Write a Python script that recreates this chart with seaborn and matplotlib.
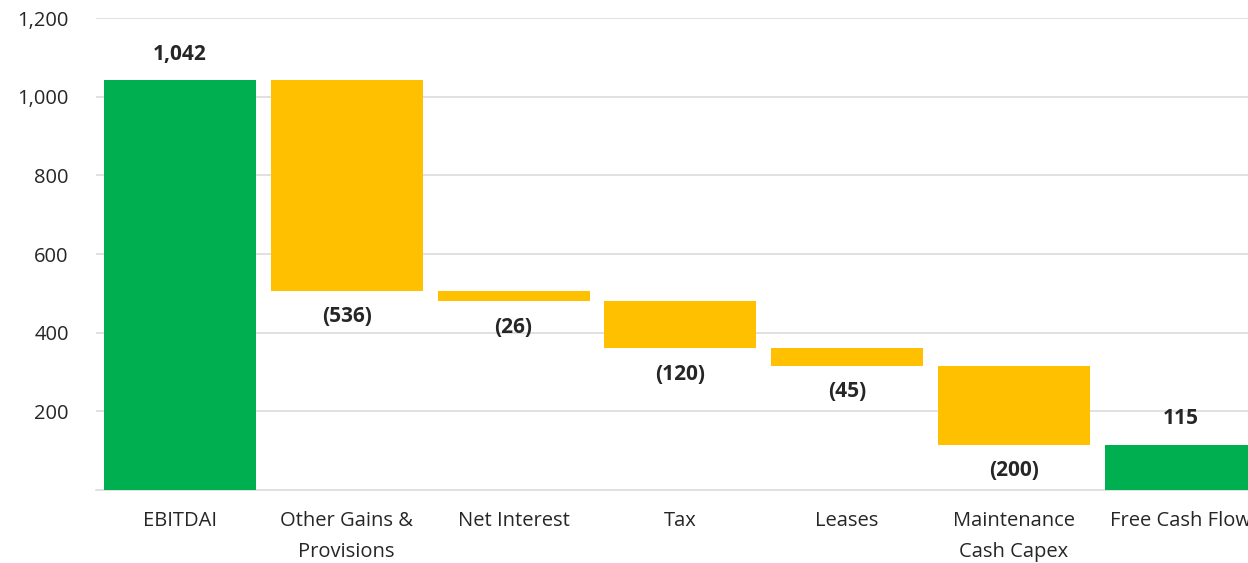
"""Free cash flow bridge - waterfall chart (EBITDAI -> FCF)."""

import matplotlib
import numpy as np
import pandas as pd
import seaborn as sns

matplotlib.use("Agg")
import matplotlib.pyplot as plt  # noqa: E402

sns.set_theme(style="white")
plt.rcParams["font.family"] = ["Open Sans", "DejaVu Sans"]

CATEGORIES = [
    "EBITDAI",
    "Other Gains &\nProvisions",
    "Net Interest",
    "Tax",
    "Leases",
    "Maintenance\nCash Capex",
    "Free Cash Flow",
]
VALUES = [1042, -536, -26, -120, -45, -200, 115]
IS_TOTAL = [True, False, False, False, False, False, True]
Y_TICKS = [200, 400, 600, 800, 1000, 1200]

GREEN, AMBER, GRID, TXT = "#00B050", "#FFC000", "#D9D9D9", "#262626"

# running total -> bar bottoms / heights
bottoms, heights = [], []
run = 0
for v, tot in zip(VALUES, IS_TOTAL):
    if tot:
        bottoms.append(0)
        heights.append(v)
        run = v
    else:
        run += v
        bottoms.append(run)
        heights.append(-v)

df = pd.DataFrame(
    {
        "cat": CATEGORIES,
        "height": heights,
        "bottom": bottoms,
        "total": IS_TOTAL,
    }
)

fig = plt.figure(figsize=(12.48, 5.63), dpi=100)
# axes deliberately runs past the right edge (last bar is clipped in the source)
ax = fig.add_axes([0.0773, 0.1297, 0.9357, 0.838])

for is_tot, color in [(True, GREEN), (False, AMBER)]:
    sub = df[df["total"] == is_tot]
    sns.barplot(
        data=sub,
        x="cat",
        y="height",
        order=CATEGORIES,
        bottom=sub["bottom"].to_numpy(),
        color=color,
        width=0.911,
        saturation=1,
        linewidth=0,
        errorbar=None,
        ax=ax,
        zorder=3,
    )

for i, (v, tot, b, h) in enumerate(zip(VALUES, IS_TOTAL, bottoms, heights)):
    if tot:
        ax.annotate(f"{v:,}", (i, b + h), xytext=(0, 11), textcoords="offset points",
                    ha="center", va="bottom", fontsize=15, fontweight="bold", color=TXT)
    else:
        ax.annotate(f"({-v:,})", (i, b), xytext=(0, -11), textcoords="offset points",
                    ha="center", va="top", fontsize=15, fontweight="bold", color=TXT)

ax.set_ylim(0, 1200)
ax.set_xlim(-0.5, len(CATEGORIES) - 0.5)
ax.set_yticks(Y_TICKS)
ax.set_yticklabels([f"{t:,}" for t in Y_TICKS])
ax.yaxis.grid(True, color=GRID, linewidth=1.1, zorder=0)
ax.set_axisbelow(True)
for s in ["left", "right", "top"]:
    ax.spines[s].set_visible(False)
ax.spines["bottom"].set_color(GRID)
ax.spines["bottom"].set_linewidth(1.1)
ax.tick_params(axis="y", length=0, pad=20, labelsize=14.5, labelcolor=TXT)
ax.tick_params(axis="x", length=0, pad=15, labelsize=14.5, labelcolor=TXT)
for lab in ax.get_xticklabels():
    lab.set_linespacing(1.75)
ax.set_xlabel("")
ax.set_ylabel("")

fig.savefig("out.png", dpi=100)
plt.close(fig)
